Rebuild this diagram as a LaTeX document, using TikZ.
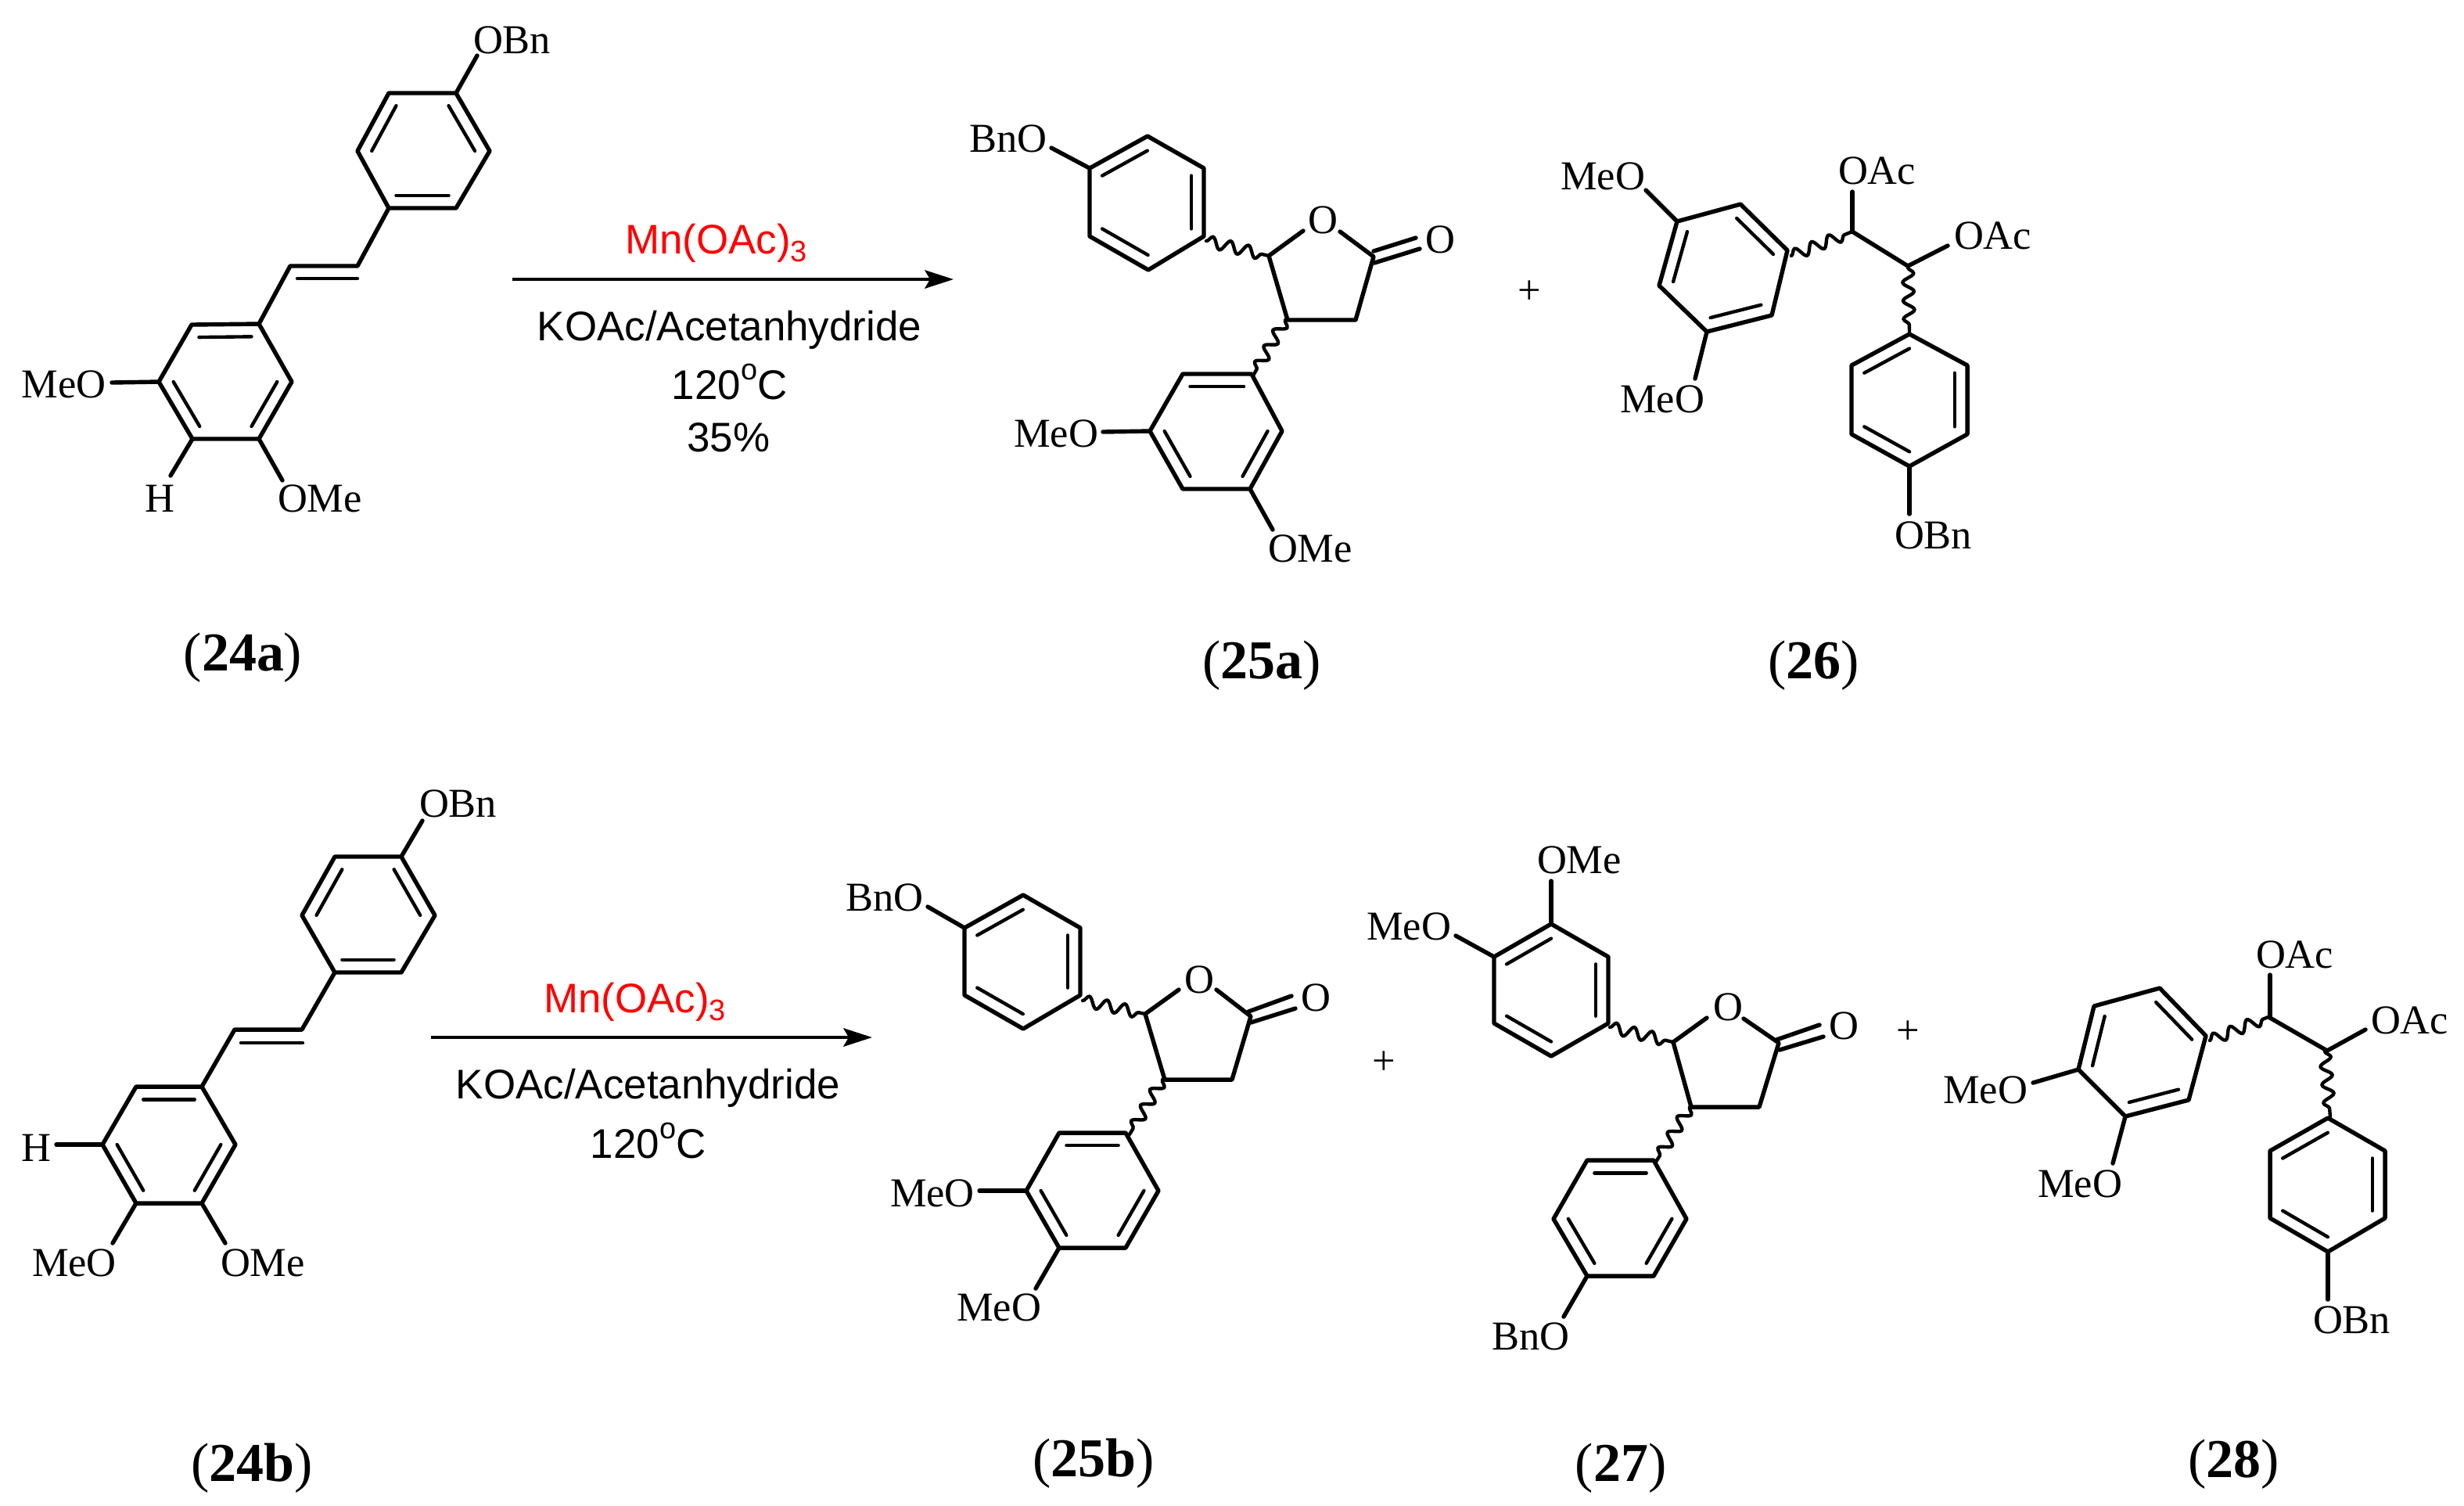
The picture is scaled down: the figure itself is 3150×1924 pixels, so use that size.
\documentclass[tikz,border=0pt]{standalone}
\usepackage{fontspec}
\setmainfont{Liberation Serif}
\newfontfamily\arialf{Liberation Sans}
\usetikzlibrary{calc,arrows.meta,decorations.pathmorphing}
\tikzset{
  bond/.style={line width=1.3pt,line join=round,line cap=round},
  innerbond/.style={line width=1.05pt,line cap=round},
  wavybond/.style={line width=1.05pt,line cap=round,decorate,decoration={snake,segment length=5.6pt,amplitude=1.7pt,pre length=0pt,post length=0pt}},
  lab/.style={anchor=base west,inner sep=0pt,outer sep=0pt,font=\fontsize{12.6}{15}\selectfont},
  plussign/.style={anchor=base,inner sep=0pt,font=\fontsize{12.6}{15}\selectfont},
  cmpd/.style={anchor=base,inner sep=0pt,font=\fontsize{16.8}{20}\selectfont},
  reag/.style={anchor=base,inner sep=0pt,font=\arialf\fontsize{12.7}{15}\selectfont},
  rxn/.style={line width=1.05pt,-{Stealth[length=8.8pt,width=5.6pt,inset=1.6pt]}},
}
\newcommand\benz[7]{%
  \coordinate (#11) at #2; \coordinate (#12) at #3; \coordinate (#13) at #4;
  \coordinate (#14) at #5; \coordinate (#15) at #6; \coordinate (#16) at #7;
  \coordinate (#1c) at ($(#11)!.5!(#14)$);
  \draw[bond] (#11)--(#12)--(#13)--(#14)--(#15)--(#16)--cycle;
  \draw[innerbond] ($(#1c)!.78!(#11)$)--($(#1c)!.78!(#12)$);
  \draw[innerbond] ($(#1c)!.78!(#13)$)--($(#1c)!.78!(#14)$);
  \draw[innerbond] ($(#1c)!.78!(#15)$)--($(#1c)!.78!(#16)$);
}
\newcommand\sbst[5]{%
  \node[lab] (#1) at #4 {#5};
  \coordinate (#1e) at #3;
  \draw[bond] (#2)--(#1e);
}
\newcommand\wav[4]{%
  \coordinate (#1) at #3; \coordinate (#2) at #4;
  \draw[wavybond] (#1)--(#2);
}
\newcommand\degsign{\raisebox{.46em}{\fontsize{9.1}{9}\selectfont o}}
\newcommand\subthree{\raisebox{-.2em}{\fontsize{9.1}{9}\selectfont 3}}
\begin{document}
\begin{tikzpicture}[x=0.24pt,y=-0.24pt]
\useasboundingbox (0,0) rectangle (3150,1924);

% ---------- 24a
\benz{aa}{(497,119)}{(457,193)}{(497,266)}{(583,266)}{(626,193)}{(583,119)}
\benz{ab}{(245,415)}{(331,414)}{(373,488)}{(331,561)}{(246,561)}{(203,488)}
\sbst{aOBn}{aa6}{(610,71)}{(605,68)}{OBn}
\sbst{aMeO}{ab6}{(143,489)}{(28,508)}{MeO}
\sbst{aH}{ab5}{(218,608)}{(185,654)}{H}
\sbst{aOMe}{ab4}{(361,614)}{(355,654)}{OMe}
\coordinate (av1) at (457,340); \coordinate (av2) at (371,340);
\coordinate (av3) at (380,356); \coordinate (av4) at (457,356);
\draw[bond] (aa3)--(av1)--(av2)--(ab2);
\draw[innerbond] (av3)--(av4);

% ---------- arrow 1
\coordinate (r1s) at (655,357); \coordinate (r1e) at (1219,357);
\draw[rxn] (r1s)--(r1e);
\node[reag,text=red] (r1a) at (915.5,324) {Mn(OAc)\subthree};
\node[reag] (r1b) at (932.5,435) {KOAc/Acetanhydride};
\node[reag] (r1c) at (932.5,510) {120\degsign C};
\node[reag] (r1d) at (931.5,577) {35\%};

% ---------- 25a
\benz{ba}{(1393,215)}{(1467,174)}{(1539,215)}{(1539,302)}{(1468,345)}{(1393,302)}
\benz{bb}{(1512,478)}{(1600,478)}{(1639,551)}{(1598,625)}{(1512,625)}{(1470,551)}
\sbst{bBnO}{ba1}{(1344,189)}{(1239,194)}{BnO}
\sbst{bMeO}{bb6}{(1410,552)}{(1296,571)}{MeO}
\sbst{bOMe}{bb4}{(1627,677)}{(1621,718)}{OMe}
\coordinate (b5) at (1622,327); \coordinate (b4) at (1646,409); \coordinate (b3) at (1733,409); \coordinate (b2) at (1756,328);
\coordinate (bo1) at (1666,295); \coordinate (bo2) at (1713,296);
\node[lab] (bO) at (1672,298) {O};
\node[lab] (bOx) at (1822,323) {O};
\draw[bond] (bo1)--(b5)--(b4)--(b3)--(b2)--(bo2);
\coordinate (bd1) at (1756,321); \coordinate (bd2) at (1810,304);
\coordinate (bd3) at (1757,336); \coordinate (bd4) at (1815,318);
\draw[bond] (bd1)--(bd2); \draw[bond] (bd3)--(bd4);
\wav{bw1}{bw2}{(1542,308)}{(1622,327)}
\wav{bw3}{bw4}{(1643,409)}{(1602,480)}
\node[plussign] (plus1) at (1955,388) {+};

% ---------- 26
\benz{ca}{(2121,365)}{(2144,283)}{(2225,261)}{(2285,320)}{(2265,403)}{(2182,424)}
\benz{cb}{(2367,467)}{(2441,427)}{(2515,467)}{(2515,555)}{(2441,596)}{(2367,555)}
\sbst{cMeOa}{ca2}{(2104,243)}{(1995,242)}{MeO}
\sbst{cMeOb}{ca6}{(2167,484)}{(2071,527)}{MeO}
\sbst{cOBn}{cb5}{(2441,657)}{(2422,701)}{OBn}
\coordinate (c1) at (2368,296); \coordinate (c2) at (2439,340);
\draw[bond] (c1)--(c2);
\sbst{cOAca}{c1}{(2368,245)}{(2350,235)}{OAc}
\sbst{cOAcb}{c2}{(2490,314)}{(2498,318)}{OAc}
\wav{cw1}{cw2}{(2290,327)}{(2368,296)}
\wav{cw3}{cw4}{(2439,342)}{(2441,424)}

% ---------- 24b
\benz{da}{(428,1095)}{(386,1170)}{(428,1243)}{(513,1243)}{(556,1170)}{(513,1095)}
\benz{db}{(174,1389)}{(258,1389)}{(301,1463)}{(258,1538)}{(174,1538)}{(131,1463)}
\sbst{dOBn}{da6}{(540,1049)}{(536,1044)}{OBn}
\sbst{dH}{db6}{(72,1463)}{(27,1484)}{H}
\sbst{dMeO}{db5}{(144,1589)}{(41,1631)}{MeO}
\sbst{dOMe}{db4}{(288,1589)}{(282,1631)}{OMe}
\coordinate (dv1) at (386,1316); \coordinate (dv2) at (300,1316);
\coordinate (dv3) at (308,1333); \coordinate (dv4) at (387,1333);
\draw[bond] (da3)--(dv1)--(dv2)--(db2);
\draw[innerbond] (dv3)--(dv4);

% ---------- arrow 2
\coordinate (r2s) at (551,1326); \coordinate (r2e) at (1115,1326);
\draw[rxn] (r2s)--(r2e);
\node[reag,text=red] (r2a) at (811.5,1294) {Mn(OAc)\subthree};
\node[reag] (r2b) at (828.5,1404) {KOAc/Acetanhydride};
\node[reag] (r2c) at (828.5,1480) {120\degsign C};

% ---------- 25b
\benz{ea}{(1233,1186)}{(1308,1144)}{(1381,1186)}{(1381,1272)}{(1308,1315)}{(1233,1272)}
\benz{eb}{(1354,1448)}{(1439,1448)}{(1481,1522)}{(1439,1595)}{(1354,1595)}{(1312,1522)}
\sbst{eBnO}{ea1}{(1186,1159)}{(1081,1164)}{BnO}
\sbst{eMeOa}{eb6}{(1252,1522)}{(1138,1542)}{MeO}
\sbst{eMeOb}{eb5}{(1324,1647)}{(1223,1688)}{MeO}
\coordinate (e5) at (1464,1296); \coordinate (e4) at (1489,1380); \coordinate (e3) at (1575,1380); \coordinate (e2) at (1599,1299);
\coordinate (eo1) at (1507,1265); \coordinate (eo2) at (1555,1265);
\node[lab] (eO) at (1514,1269) {O};
\node[lab] (eOx) at (1663,1292) {O};
\draw[bond] (eo1)--(e5)--(e4)--(e3)--(e2)--(eo2);
\coordinate (ed1) at (1596,1293); \coordinate (ed2) at (1651,1273);
\coordinate (ed3) at (1599,1307); \coordinate (ed4) at (1656,1289);
\draw[bond] (ed1)--(ed2); \draw[bond] (ed3)--(ed4);
\wav{ew1}{ew2}{(1384,1279)}{(1464,1296)}
\wav{ew3}{ew4}{(1486,1380)}{(1444,1450)}
\node[plussign] (plus2) at (1769,1373) {+};

% ---------- 27
\benz{fa}{(1910,1223)}{(1983,1181)}{(2056,1223)}{(2056,1308)}{(1983,1350)}{(1910,1308)}
\benz{fb}{(2029,1483)}{(2114,1483)}{(2156,1558)}{(2114,1631)}{(2029,1631)}{(1986,1558)}
\sbst{fOMe}{fa2}{(1983,1126)}{(1965,1116)}{OMe}
\sbst{fMeO}{fa1}{(1861,1196)}{(1747,1201)}{MeO}
\sbst{fBnO}{fb5}{(1999,1683)}{(1907,1725)}{BnO}
\coordinate (f5) at (2139,1332); \coordinate (f4) at (2162,1415); \coordinate (f3) at (2249,1415); \coordinate (f2) at (2274,1333);
\coordinate (fo1) at (2182,1301); \coordinate (fo2) at (2229,1302);
\node[lab] (fO) at (2190,1304) {O};
\node[lab] (fOx) at (2338,1328) {O};
\draw[bond] (fo1)--(f5)--(f4)--(f3)--(f2)--(fo2);
\coordinate (fd1) at (2271,1329); \coordinate (fd2) at (2326,1310);
\coordinate (fd3) at (2275,1342); \coordinate (fd4) at (2331,1325);
\draw[bond] (fd1)--(fd2); \draw[bond] (fd3)--(fd4);
\wav{fw1}{fw2}{(2058,1313)}{(2139,1332)}
\wav{fw3}{fw4}{(2160,1415)}{(2117,1485)}
\node[plussign] (plus3) at (2439,1334) {+};

% ---------- 28
\benz{ga}{(2761,1263)}{(2820,1324)}{(2798,1406)}{(2717,1427)}{(2657,1367)}{(2677,1286)}
\benz{gb}{(2902,1471)}{(2976,1429)}{(3049,1471)}{(3049,1557)}{(2976,1600)}{(2902,1557)}
\sbst{gMeOa}{ga5}{(2599,1384)}{(2484,1410)}{MeO}
\sbst{gMeOb}{ga4}{(2701,1487)}{(2605,1530)}{MeO}
\sbst{gOBn}{gb5}{(2976,1661)}{(2957,1704)}{OBn}
\coordinate (g1) at (2902,1301); \coordinate (g2) at (2975,1343);
\draw[bond] (g1)--(g2);
\sbst{gOAca}{g1}{(2902,1246)}{(2884,1237)}{OAc}
\sbst{gOAcb}{g2}{(3024,1316)}{(3031,1321)}{OAc}
\wav{gw1}{gw2}{(2825,1330)}{(2902,1299)}
\wav{gw3}{gw4}{(2972,1344)}{(2979,1428)}

% ---------- compound labels
\node[cmpd] (l24a) at (310.5,857) {(\textbf{24a})};
\node[cmpd] (l25a) at (1613,867) {(\textbf{25a})};
\node[cmpd] (l26)  at (2318.5,867) {(\textbf{26})};
\node[cmpd] (l24b) at (322,1893) {(\textbf{24b})};
\node[cmpd] (l25b) at (1398,1887) {(\textbf{25b})};
\node[cmpd] (l27)  at (2072,1893) {(\textbf{27})};
\node[cmpd] (l28)  at (2855.5,1888) {(\textbf{28})};
\end{tikzpicture}
\end{document}
